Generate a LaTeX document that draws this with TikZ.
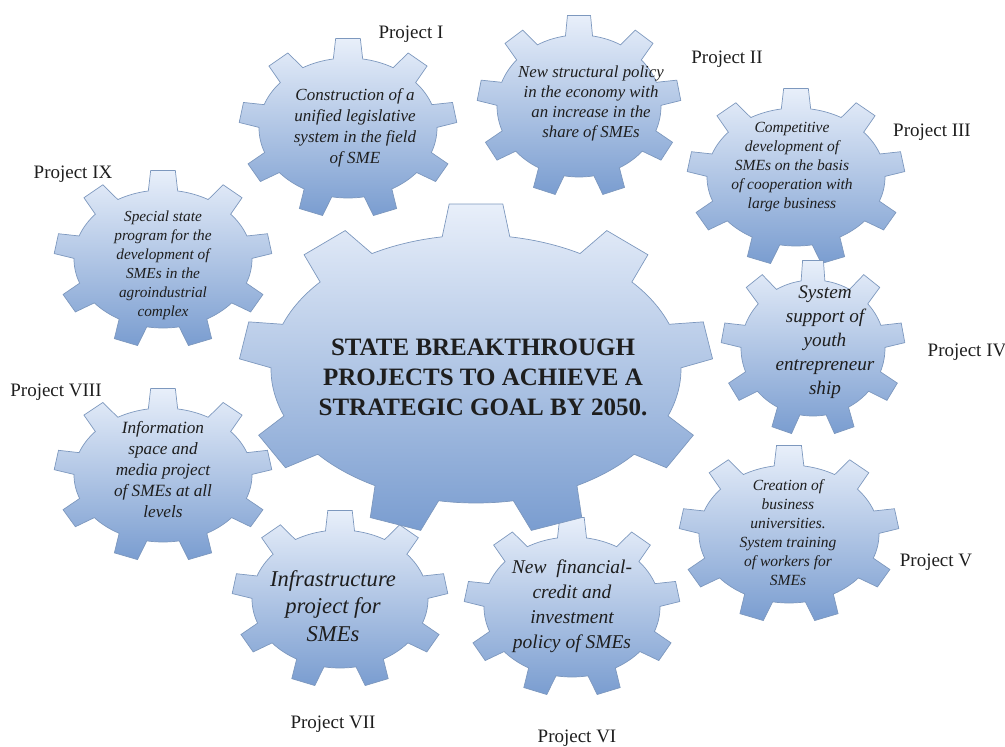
\documentclass[tikz,border=0pt]{standalone}
\usepackage{fontspec}
\setmainfont{Liberation Serif}
\usepackage{tikz}

\definecolor{gtop}{RGB}{232,239,250}
\definecolor{gbot}{RGB}{122,157,208}
\definecolor{gline}{RGB}{125,152,190}
\definecolor{txt}{RGB}{30,30,30}

% cog: centre x, centre y, half width, half height, tooth height
\newcommand\cog[5]{%
  \begin{scope}[shift={(#1,#2)}]
    \pgfmathsetmacro\cogA{#3}\pgfmathsetmacro\cogB{#4}%
    \pgfmathsetmacro\cogAA{#3+#5}\pgfmathsetmacro\cogBB{#4+#5}%
    \path[cogfill] (80.5:\cogA pt and \cogB pt)
      \foreach \t in {90,130,...,410} {
        -- (\t-6.5:\cogAA pt and \cogBB pt) -- (\t+6.5:\cogAA pt and \cogBB pt)
        -- (\t+9.5:\cogA pt and \cogB pt)
        arc[start angle=\t+9.5, end angle=\t+30.5, x radius=\cogA pt, y radius=\cogB pt]
      } -- cycle;
  \end{scope}}

\tikzset{
  cogfill/.style={top color=gtop, bottom color=gbot, draw=gline, line width=0.7pt},
  cogtext/.style 2 args={align=center, text=txt, font=\itshape\fontsize{#1}{#2}\selectfont},
  projlabel/.style={text=txt, font=\fontsize{19}{22}\selectfont}
}

\begin{document}
\begin{tikzpicture}[x=1pt,y=-1pt]
\useasboundingbox (0,0) rectangle (1005,747);

% small gears
\cog{348}{128}{89}{70}{20}
\cog{579}{106}{82}{71}{20}
\cog{796}{177}{89}{69}{20}
\cog{813}{348}{72}{68}{20}
\cog{789}{534}{90}{69}{20}
\cog{572}{607}{88}{70}{20}
\cog{340}{599}{88}{69}{20}
\cog{163}{475}{89}{67}{20}
\cog{163}{259}{89}{69}{20}
% big gear
\cog{476}{369}{205}{134}{32}

\node [align=center, text=txt, font=\bfseries\fontsize{25}{30}\selectfont] (goal) at (483, 377)
  {STATE BREAKTHROUGH\\PROJECTS TO ACHIEVE A\\STRATEGIC GOAL BY 2050.};

\node [cogtext={17}{21}] (p1) at (355, 128) {Construction of a\\unified legislative\\system in the field\\of SME};
\node [cogtext={16.8}{20}] (p2) at (591, 103) {New structural policy\\in the economy with\\an increase in the\\share of SMEs};
\node [cogtext={15.5}{19}] (p3) at (792, 167) {Competitive\\development of\\SMEs on the basis\\of cooperation with\\large business};
\node [cogtext={19.2}{24}] (p4) at (825, 342) {System\\support of\\youth\\entrepreneur\\ship};
\node [cogtext={15.5}{19}] (p5) at (788, 533) {Creation of\\business\\universities.\\System training\\of workers for\\SMEs};
\node [cogtext={19.5}{25}] (p6) at (572, 606) {New\ \ financial-\\credit and\\investment\\policy of SMEs};
\node [cogtext={22.6}{27.5}] (p7) at (333, 606) {Infrastructure\\project for\\SMEs};
\node [cogtext={17.2}{21}] (p8) at (163, 470) {Information\\space and\\media project\\of SMEs at all\\levels};
\node [cogtext={15.3}{19}] (p9) at (163, 265) {Special state\\program for the\\development of\\SMEs in the\\agroindustrial\\complex};

\node [projlabel] (l1) at (411, 34) {Project I};
\node [projlabel] (l2) at (727, 59) {Project II};
\node [projlabel] (l3) at (932, 132) {Project III};
\node [projlabel] (l4) at (967, 352) {Project IV};
\node [projlabel] (l5) at (936, 562) {Project V};
\node [projlabel] (l6) at (577, 738) {Project VI};
\node [projlabel] (l7) at (333, 724) {Project VII};
\node [projlabel] (l8) at (56, 392) {Project VIII};
\node [projlabel] (l9) at (73, 174) {Project IX};
\end{tikzpicture}
\end{document}
